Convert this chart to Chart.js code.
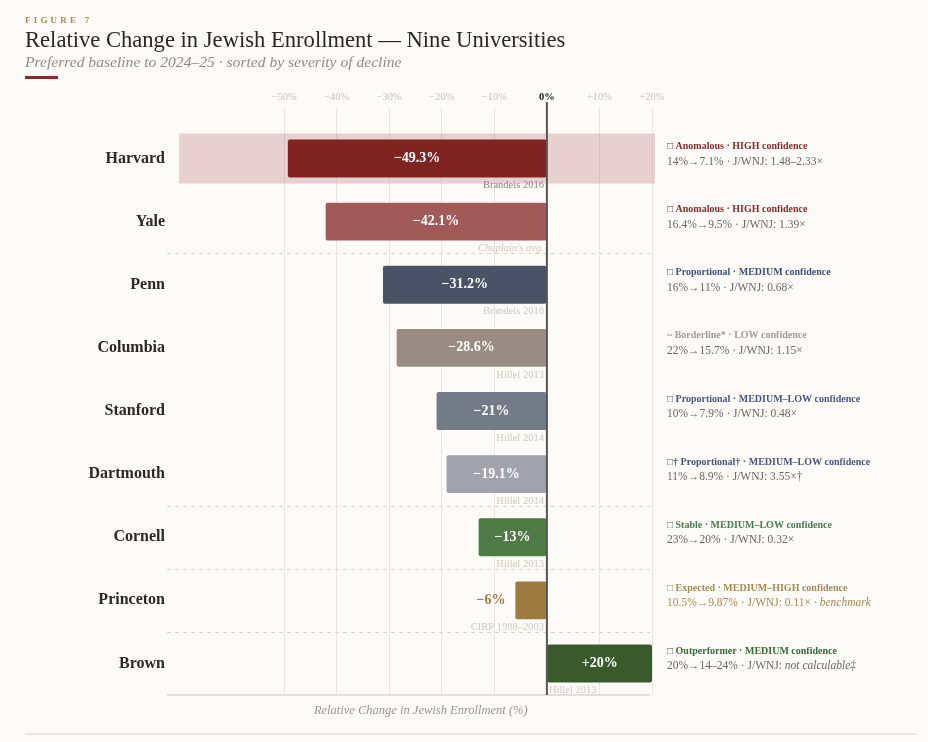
<!DOCTYPE html>
<html><head><meta charset="utf-8">
<script src="https://cdn.jsdelivr.net/npm/chart.js@4.4.0/dist/chart.umd.min.js"></script>
<style>
html,body{margin:0;padding:0;background:#fcfbf7;width:928px;height:742px;overflow:hidden;font-family:"Liberation Serif",serif;}
#wrap{position:relative;width:928px;height:742px;}
#c{position:absolute;left:0;top:0;}
.fig{position:absolute;left:25px;top:15px;font-size:9px;letter-spacing:3.2px;color:#a8894f;font-weight:bold;}
.title{position:absolute;left:25px;top:27px;font-size:22.6px;color:#2a2624;white-space:nowrap;}
.sub{position:absolute;left:25px;top:53px;font-size:15.6px;font-style:italic;color:#8f8a84;white-space:nowrap;}
.rule{position:absolute;left:25px;top:76px;width:33px;height:3px;background:#8b2a2a;}
.foot{position:absolute;left:25px;top:733px;width:892px;height:2px;background:#ebe6df;}
</style></head>
<body><div id="wrap">
<canvas id="c" width="928" height="742"></canvas>
<div class="fig">FIGURE 7</div>
<div class="title">Relative Change in Jewish Enrollment — Nine Universities</div>
<div class="sub">Preferred baseline to 2024–25 · sorted by severity of decline</div>
<div class="rule"></div>
<div class="foot"></div>
</div>
<script>
// ---- data ----
const universities = ['Harvard','Yale','Penn','Columbia','Stanford','Dartmouth','Cornell','Princeton','Brown'];
const relChange = [-49.3,-42.1,-31.2,-28.6,-21,-19.1,-13,-6,20];
const valueLabels = ['−49.3%','−42.1%','−31.2%','−28.6%','−21%','−19.1%','−13%','−6%','+20%'];
const baselineSources = ['Brandeis 2016',"Chaplain's avg.",'Brandeis 2016','Hillel 2013','Hillel 2014','Hillel 2014','Hillel 2013','CIRP 1988–2003','Hillel 2013'];
const classifications = [
  '□ Anomalous · HIGH confidence',
  '□ Anomalous · HIGH confidence',
  '□ Proportional · MEDIUM confidence',
  '~ Borderline* · LOW confidence',
  '□ Proportional · MEDIUM–LOW confidence',
  '□† Proportional† · MEDIUM–LOW confidence',
  '□ Stable · MEDIUM–LOW confidence',
  '□ Expected · MEDIUM–HIGH confidence',
  '□ Outperformer · MEDIUM confidence'
];
const details = [
  '14%→7.1% · J/WNJ: 1.48–2.33×',
  '16.4%→9.5% · J/WNJ: 1.39×',
  '16%→11% · J/WNJ: 0.68×',
  '22%→15.7% · J/WNJ: 1.15×',
  '10%→7.9% · J/WNJ: 0.48×',
  '11%→8.9% · J/WNJ: 3.55×†',
  '23%→20% · J/WNJ: 0.32×',
  '10.5%→9.87% · J/WNJ: 0.11×',
  '20%→14–24% · J/WNJ: '
];
const detailItalic = ['','','','','','','',' · benchmark','not calculable‡'];
const groupBreaksAfter = ['Yale','Dartmouth','Cornell','Princeton'];
const highlighted = ['Harvard'];
const tickValues = [-50,-40,-30,-20,-10,0,10,20];
const xTitle = 'Relative Change in Jewish Enrollment (%)';

// ---- styles ----
const barColors = ['#7f2420','#a05a58','#4a5366','#9a8c84','#737a88','#a0a3ad','#4e7a46','#9c7a40','#3a5a2c'];
const classColors = ['#8b2a2a','#8b2a2a','#3f4f7c','#a39a92','#4a5680','#4a5680','#4a7a50','#a88a50','#3a6a3a'];
const detailColors = ['#6b6662','#6b6662','#6b6662','#6b6662','#6b6662','#6b6662','#6b6662','#a88a50','#6b6662'];
const FONT = '"Liberation Serif", "DejaVu Serif", serif';

function fmtTick(v){ return v>0 ? '+'+v+'%' : v<0 ? '−'+Math.abs(v)+'%' : '0%'; }

const overlay = {
  id:'overlay',
  beforeDatasetsDraw(chart){
    const {ctx, chartArea:ca, scales:{x}} = chart;
    const meta = chart.getDatasetMeta(0);
    ctx.save();
    highlighted.forEach(name=>{
      const i = universities.indexOf(name);
      const el = meta.data[i];
      const x0 = x.getPixelForValue(-70), x1 = x.getPixelForValue(20)+3;
      ctx.fillStyle = 'rgba(190,110,120,0.3)';
      ctx.fillRect(x0, el.y-25, x1-x0, 50);
    });
    ctx.strokeStyle = '#dcd5cd'; ctx.lineWidth = 1; ctx.setLineDash([4,4]);
    groupBreaksAfter.forEach(name=>{
      const i = universities.indexOf(name);
      const y = Math.round((meta.data[i].y + meta.data[i+1].y)/2)+0.5;
      ctx.beginPath(); ctx.moveTo(ca.left, y); ctx.lineTo(x.getPixelForValue(20)-2, y); ctx.stroke();
    });
    ctx.setLineDash([]);
    ctx.strokeStyle = '#ddd5cc'; ctx.lineWidth = 1.5;
    ctx.beginPath(); ctx.moveTo(ca.left, ca.bottom); ctx.lineTo(x.getPixelForValue(20)-2, ca.bottom); ctx.stroke();
    ctx.restore();
  },
  afterDatasetsDraw(chart){
    const {ctx, chartArea:ca, scales:{x}} = chart;
    const meta = chart.getDatasetMeta(0);
    const zx = x.getPixelForValue(0);
    ctx.save();
    ctx.strokeStyle = '#555'; ctx.lineWidth = 2;
    ctx.beginPath(); ctx.moveTo(zx, ca.top-25); ctx.lineTo(zx, ca.bottom); ctx.stroke();
    meta.data.forEach((el,i)=>{
      const left = Math.min(el.x, el.base), right = Math.max(el.x, el.base);
      const w = right-left;
      ctx.textBaseline = 'middle';
      ctx.font = 'bold 14px '+FONT;
      if (w > 45){
        ctx.fillStyle = '#ffffff'; ctx.textAlign = 'center';
        ctx.fillText(valueLabels[i], (left+right)/2, el.y);
      } else {
        ctx.fillStyle = barColors[i]; ctx.textAlign = 'right';
        ctx.fillText(valueLabels[i], left-10, el.y);
      }
      const italic = baselineSources[i].indexOf('Chaplain')===0;
      ctx.font = (italic?'italic ':'')+'10.5px '+FONT;
      ctx.fillStyle = highlighted.includes(universities[i]) ? '#8c8480' : '#cfc7bf';
      const sy = el.y + el.height/2 + 8;
      if (relChange[i] >= 0){ ctx.textAlign='left'; ctx.fillText(baselineSources[i], zx+2, sy); }
      else { ctx.textAlign='right'; ctx.fillText(baselineSources[i], zx-3, sy); }
      const ax = ca.right + 15;
      ctx.textAlign = 'left';
      ctx.font = 'bold 10px '+FONT;
      ctx.fillStyle = classColors[i];
      ctx.fillText(classifications[i], ax, el.y-12);
      ctx.font = '11.5px '+FONT;
      ctx.fillStyle = detailColors[i];
      ctx.fillText(details[i], ax, el.y+3);
      if (detailItalic[i]){
        const dw = ctx.measureText(details[i]).width;
        ctx.font = 'italic 11.5px '+FONT;
        ctx.fillText(detailItalic[i], ax+dw, el.y+3);
      }
    });
    ctx.font = 'italic 12.5px '+FONT; ctx.fillStyle = '#9a948e'; ctx.textAlign='center';
    ctx.fillText(xTitle, x.getPixelForValue(-24), ca.bottom+16);
    ctx.restore();
  }
};

new Chart(document.getElementById('c'), {
  type:'bar',
  data:{ labels: universities, datasets:[{ data: relChange, backgroundColor: barColors, borderRadius:2, borderSkipped:false, barPercentage:0.6, categoryPercentage:1 }]},
  options:{
    responsive:false, animation:false, indexAxis:'y',
    layout:{ padding:{ left:0, right:276, top:0, bottom:47 } },
    plugins:{ legend:{display:false}, tooltip:{enabled:false} },
    scales:{
      x:{
        position:'top', min:-72.3, max:20,
        afterBuildTicks(s){ s.ticks = tickValues.map(v=>({value:v})); },
        afterFit(s){ s.height = 127; },
        border:{display:false},
        grid:{ color: c => c.tick && c.tick.value===0 ? 'rgba(0,0,0,0)' : '#ebe5dd', lineWidth:1, drawTicks:true, tickLength:20, tickColor: c => c.tick && c.tick.value===0 ? 'rgba(0,0,0,0)' : '#ebe5dd' },
        ticks:{ padding:3, callback: v => fmtTick(v),
          color: c => c.tick && c.tick.value===0 ? '#222' : '#cbc3ba',
          font: c => ({ family: FONT, size: 10.5, weight: c.tick && c.tick.value===0 ? 'bold' : 'normal' }) }
      },
      y:{
        afterFit(s){ s.width = 167; },
        border:{display:false}, grid:{display:false, drawTicks:false, tickLength:0},
        ticks:{ padding:2, color:'#2b2826', font:{ family: FONT, size:16, weight:'bold' } }
      }
    }
  },
  plugins:[overlay]
});
</script>
</body></html>
